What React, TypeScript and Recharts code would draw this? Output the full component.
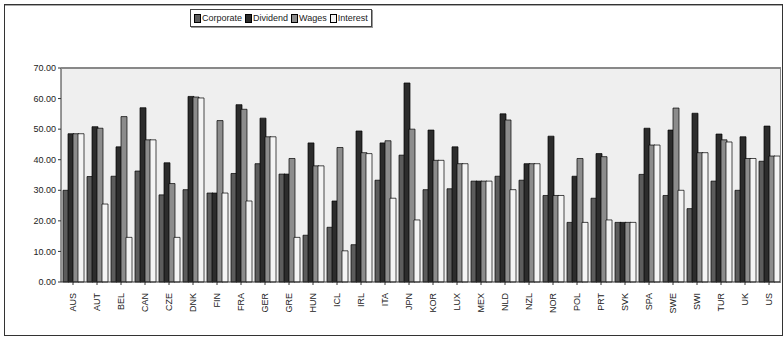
import { Bar, BarChart, CartesianGrid, XAxis, YAxis } from 'recharts';

const countries = [
  'AUS', 'AUT', 'BEL', 'CAN', 'CZE', 'DNK', 'FIN', 'FRA', 'GER', 'GRE',
  'HUN', 'ICL', 'IRL', 'ITA', 'JPN', 'KOR', 'LUX', 'MEX', 'NLD', 'NZL',
  'NOR', 'POL', 'PRT', 'SVK', 'SPA', 'SWE', 'SWI', 'TUR', 'UK', 'US',
];

const corporate = [
  30, 34.5, 34.6, 36.3, 28.5, 30.2, 29.1, 35.5, 38.7, 35.3,
  15.3, 17.9, 12.2, 33.3, 41.5, 30.2, 30.5, 33, 34.6, 33.3,
  28.3, 19.5, 27.4, 19.5, 35.2, 28.3, 24, 33, 30, 39.5,
];
const dividend = [
  48.5, 50.8, 44.2, 57, 39, 60.7, 29.1, 58, 53.6, 35.3,
  45.5, 26.5, 49.4, 45.5, 65.1, 49.7, 44.2, 33, 55, 38.7,
  47.7, 34.6, 42, 19.5, 50.3, 49.7, 55.2, 48.4, 47.5, 51,
];
const wages = [
  48.5, 50.3, 54.1, 46.5, 32.2, 60.5, 52.8, 56.5, 47.5, 40.4,
  38, 44, 42.3, 46.2, 50, 39.8, 38.7, 33, 53, 38.7,
  28.3, 40.4, 41, 19.5, 44.8, 56.9, 42.3, 46.5, 40.4, 41.2,
];
const interest = [
  48.5, 25.5, 14.6, 46.5, 14.6, 60.2, 29.1, 26.5, 47.5, 14.6,
  38, 10.2, 42, 27.4, 20.3, 39.8, 38.7, 33, 30.2, 38.7,
  28.3, 19.5, 20.3, 19.5, 44.8, 30, 42.3, 45.8, 40.4, 41.2,
];

const yTicks = [0, 10, 20, 30, 40, 50, 60, 70];

const SERIES = [
  { key: 'Corporate', fill: '#5c5c5c' },
  { key: 'Dividend', fill: '#2c2c2c' },
  { key: 'Wages', fill: '#8c8c8c' },
  { key: 'Interest', fill: '#f4f4f4' },
];

const data = countries.map((c, i) => ({
  country: c,
  Corporate: corporate[i],
  Dividend: dividend[i],
  Wages: wages[i],
  Interest: interest[i],
}));

const FONT = '"Liberation Sans", Arial, sans-serif';

function CountryTick({ x, y, payload }: any) {
  return (
    <text
      x={x}
      y={y + 6}
      transform={`rotate(-90, ${x}, ${y + 6})`}
      textAnchor="end"
      dominantBaseline="central"
      fontSize={9}
      fontFamily={FONT}
      fill="#222"
    >
      {payload.value}
    </text>
  );
}

// drawn outside the chart so it doesn't push the plot down
function LegendBox() {
  return (
    <div
      style={{
        position: 'absolute',
        left: 190,
        top: 9,
        height: 16,
        display: 'flex',
        gap: 3,
        alignItems: 'center',
        border: '1px solid #444',
        boxShadow: '1px 1px 0 #999',
        background: '#fff',
        padding: '0 3px',
        fontSize: 9,
        fontFamily: FONT,
        color: '#222',
        whiteSpace: 'nowrap',
      }}
    >
      {SERIES.map((s) => (
        <span key={s.key} style={{ display: 'flex', alignItems: 'center' }}>
          <span
            style={{
              display: 'inline-block',
              width: 5,
              height: 7,
              background: s.fill,
              border: '1px solid #000',
              marginRight: 1,
            }}
          />
          {s.key}
        </span>
      ))}
    </div>
  );
}

export default function App() {
  return (
    <div style={{ position: 'absolute', left: 0, top: 0, width: 784, height: 340, background: '#fff' }}>
      <div
        style={{
          position: 'absolute',
          left: 4,
          top: 4,
          width: 777,
          height: 330,
          border: '1px solid #333',
          boxShadow: 'inset 0 1px 0 #aaa',
        }}
      />
      <div style={{ position: 'absolute', left: 0, top: 0 }}>
        <BarChart
          width={784}
          height={340}
          data={data}
          margin={{ top: 68, right: 3, bottom: 8, left: 5 }}
          barCategoryGap={2}
          barGap={-1}
        >
          <CartesianGrid fill="#efefef" horizontal={false} vertical={false} />
          <XAxis
            dataKey="country"
            interval={0}
            height={50}
            tick={<CountryTick />}
            tickLine={{ stroke: '#333' }}
            tickSize={3}
            axisLine={{ stroke: '#333' }}
          />
          <YAxis
            width={56}
            domain={[0, 70]}
            ticks={yTicks}
            interval={0}
            tickFormatter={(v) => v.toFixed(2)}
            tick={{ fontSize: 9, fontFamily: FONT, fill: '#222' }}
            tickSize={3}
            tickLine={{ stroke: '#333' }}
            axisLine={{ stroke: '#333' }}
          />
          {SERIES.map((s) => (
            <Bar
              key={s.key}
              dataKey={s.key}
              fill={s.fill}
              stroke="#000"
              strokeWidth={0.7}
              isAnimationActive={false}
            />
          ))}
        </BarChart>
      </div>
      <LegendBox />
      <div
        style={{
          position: 'absolute',
          left: 61,
          top: 67,
          width: 719,
          height: 214,
          borderTop: '2px solid #888',
          borderRight: '1px solid #888',
          pointerEvents: 'none',
        }}
      />
    </div>
  );
}
